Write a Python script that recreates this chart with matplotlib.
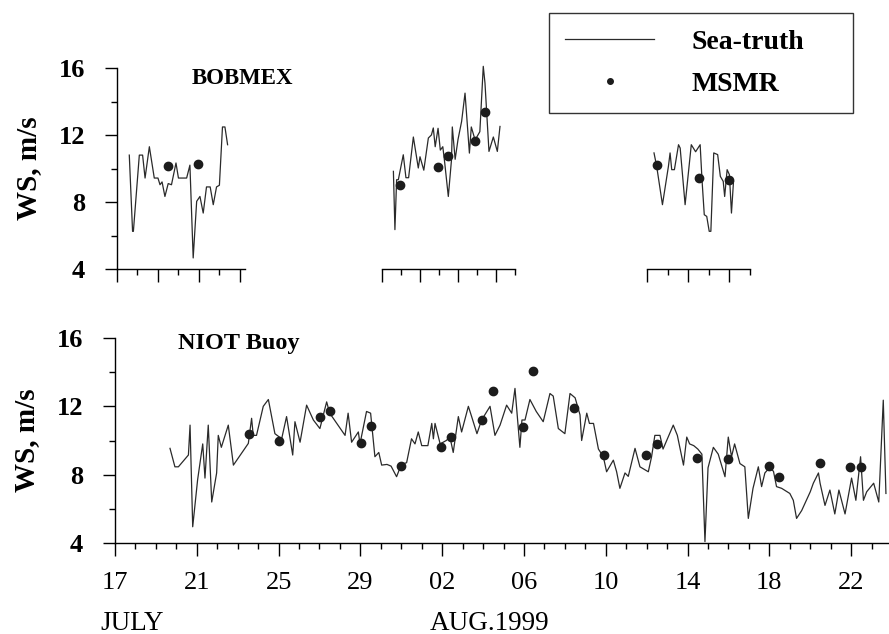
import matplotlib.pyplot as plt
from matplotlib.lines import Line2D
from matplotlib.ticker import MultipleLocator, FixedLocator

plt.rcParams['font.family'] = ['Liberation Serif', 'DejaVu Serif']

# days counted from 17 July 1999, 00 h
# BOBMEX sea-truth, three cruise legs
bob1_day = [0.6, 0.76, 0.8, 1.09, 1.25, 1.37, 1.58, 1.82, 2.0, 2.1, 2.2, 2.34, 2.5, 2.66,
            2.88, 3.0, 3.4, 3.56, 3.72, 3.89, 4.05, 4.21, 4.37, 4.55, 4.7, 4.86, 5.0,
            5.15, 5.27, 5.4]
bob1_ws = [10.8, 6.25, 6.25, 10.8, 10.8, 9.43, 11.3, 9.43, 9.43, 9.03, 9.2, 8.33, 9.1, 9.03,
           10.33, 9.43, 9.43, 10.2, 4.66, 8.04, 8.33, 7.34, 8.9, 8.9, 7.84, 8.9, 9.0,
           12.48, 12.48, 11.42]

bob2_day = [13.6, 13.68, 13.77, 13.86, 14.12, 14.26, 14.4, 14.65, 14.91, 15.0, 15.2, 15.44,
            15.6, 15.7, 15.8, 15.95, 16.07, 16.2, 16.3, 16.49, 16.66, 16.7, 16.85, 17.0,
            17.19, 17.37, 17.6, 17.7, 17.9, 18.15, 18.33, 18.42, 18.63, 18.86, 19.07, 19.21]
bob2_ws = [9.83, 6.35, 9.33, 9.33, 10.82, 9.45, 9.45, 11.88, 10.03, 10.7, 9.9, 11.82,
           12.0, 12.42, 11.3, 12.4, 11.1, 11.3, 10.35, 8.33, 10.55, 12.48, 10.55, 11.73,
           12.81, 14.5, 10.92, 12.48, 11.7, 12.2, 16.1, 15.1, 11.02, 11.88, 11.02, 12.51]

bob3_day = [26.34, 26.47, 26.75, 27.04, 27.12, 27.2, 27.33, 27.53, 27.61, 27.85, 28.15,
            28.36, 28.58, 28.67, 28.78, 28.9, 29.02, 29.1, 29.24, 29.43, 29.56, 29.7,
            29.77, 29.89, 30.0, 30.1, 30.2]
bob3_ws = [10.93, 10.13, 7.84, 10.13, 10.93, 9.93, 9.93, 11.42, 11.22, 7.84, 11.42,
           11.0, 11.42, 9.33, 7.24, 7.14, 6.25, 6.25, 10.93, 10.83, 9.53, 9.23,
           8.33, 9.93, 9.63, 7.34, 9.23]

bob_msmr_day = [2.47, 3.97, 13.95, 15.93, 16.46, 17.89, 18.44, 26.47, 28.5, 29.96]
bob_msmr_ws = [10.13, 10.27, 8.99, 10.07, 10.72, 11.62, 13.35, 10.23, 9.43, 9.33]

# NIOT buoy sea-truth
niot_day = [2.69, 2.93, 3.1, 3.59, 3.67, 3.8, 4.04, 4.29, 4.4, 4.56, 4.73, 4.97, 5.05, 5.2,
            5.54, 5.79, 6.52, 6.68, 6.76, 6.92, 7.25, 7.5, 7.82, 8.15, 8.39, 8.69, 8.8,
            9.05, 9.37, 9.7, 10.02, 10.35, 10.5, 11.25, 11.4, 11.57, 11.9, 11.98, 12.3,
            12.5, 12.71, 12.9, 13.04, 13.3, 13.5, 13.77, 14.0, 14.26, 14.5, 14.67, 14.83,
            15.0, 15.3, 15.49, 15.57, 15.65, 15.9, 16.2, 16.38, 16.54, 16.79, 16.95, 17.28,
            17.44, 17.7, 17.93, 18.34, 18.58, 18.83, 19.15, 19.4, 19.56, 19.72, 19.8, 19.9,
            20.05, 20.29, 20.6, 20.94, 21.27, 21.43, 21.68, 22.0, 22.25, 22.5, 22.74, 22.82,
            23.07, 23.2, 23.4, 23.64, 23.88, 24.04, 24.37, 24.53, 24.69, 24.94, 25.1, 25.43,
            25.67, 26.08, 26.24, 26.4, 26.65, 26.8, 27.3, 27.5, 27.8, 27.96, 28.1, 28.3,
            28.5, 28.7, 28.85, 29.0, 29.26, 29.5, 29.83, 29.99, 30.15, 30.3, 30.56, 30.8,
            30.97, 31.2, 31.46, 31.62, 31.78, 32.0, 32.2, 32.35, 32.6, 33.0, 33.17, 33.33,
            33.58, 34.0, 34.15, 34.4, 34.48, 34.72, 34.96, 35.2, 35.4, 35.7, 36.02, 36.23,
            36.46, 36.6, 36.76, 37.1, 37.35, 37.57, 37.7]
niot_ws = [9.54, 8.46, 8.46, 9.15, 10.9, 4.95, 7.7, 9.8, 7.8, 10.9, 6.4, 8.1, 10.3, 9.6,
           10.9, 8.56, 9.83, 11.3, 10.3, 10.3, 12.0, 12.4, 10.4, 10.1, 11.4, 9.15, 11.1,
           9.9, 12.07, 11.2, 10.7, 12.26, 11.6, 10.3, 11.6, 9.9, 10.5, 9.8, 11.7,
           11.6, 9.05, 9.3, 8.56, 8.6, 8.5, 7.88, 8.6, 8.7, 10.1, 9.8, 10.5,
           9.7, 9.7, 11.0, 10.1, 11.0, 9.8, 10.0, 10.2, 9.3, 11.4, 10.5, 12.0,
           11.4, 10.4, 11.2, 12.0, 10.3, 10.9, 12.07, 11.6, 13.05, 10.8, 9.6, 11.2,
           11.2, 12.4, 11.7, 11.1, 12.75, 12.6, 10.7, 10.4, 12.75, 12.5, 11.5, 10.0,
           11.6, 11.0, 11.0, 9.5, 9.05, 8.17, 8.85, 8.17, 7.2, 8.1, 7.9, 9.54,
           8.46, 8.17, 9.05, 10.3, 10.3, 9.5, 10.9, 10.3, 8.56, 10.2, 9.8, 9.7,
           9.5, 9.2, 4.08, 8.4, 9.6, 9.2, 7.88, 10.2, 9.05, 9.8, 8.65, 8.46,
           5.44, 7.2, 8.46, 7.3, 8.1, 8.4, 8.2, 7.3, 7.2, 6.9, 6.5, 5.44,
           5.9, 7.0, 7.5, 8.1, 7.5, 6.2, 7.1, 5.7, 7.1, 5.7, 7.8, 6.5,
           9.05, 6.5, 7.0, 7.5, 6.4, 12.36, 6.9]

niot_msmr_day = [6.57, 8.04, 10.02, 10.51, 12.01, 12.52, 13.99, 15.94, 16.43, 17.96, 18.5,
                 19.94, 20.46, 22.44, 23.91, 25.97, 26.49, 28.48, 29.96, 31.98, 32.49,
                 34.47, 35.94, 36.5]
niot_msmr_ws = [10.4, 9.98, 11.4, 11.7, 9.87, 10.85, 8.52, 9.63, 10.2, 11.2, 12.9,
                10.77, 14.08, 11.88, 9.15, 9.15, 9.77, 8.99, 8.9, 8.5, 7.88,
                8.66, 8.46, 8.46]

date_ticks = [0, 4, 8, 12, 16, 20, 24, 28, 32, 36]
date_labels = ['17', '21', '25', '29', '02', '06', '10', '14', '18', '22']

line_col = '#2a2a2a'
dot_col = '#1c1c1c'
W, H = 889, 634

fig = plt.figure(figsize=(W / 100, H / 100), dpi=100)


def axes_px(left, right, top, bottom):
    return fig.add_axes([left / W, 1 - bottom / H, (right - left) / W, (bottom - top) / H])


def style(ax, show_y):
    for s in ['top', 'right']:
        ax.spines[s].set_visible(False)
    ax.spines['left'].set_visible(show_y)
    for s in ['left', 'bottom']:
        ax.spines[s].set_linewidth(1.0)
    ax.set_ylim(4, 16)
    ax.yaxis.set_major_locator(FixedLocator([4, 8, 12, 16]))
    ax.yaxis.set_minor_locator(FixedLocator([6, 10, 14]))
    ax.tick_params(which='major', direction='out', length=9, width=1.0)
    ax.tick_params(which='minor', direction='out', length=4.5, width=1.0)
    if show_y:
        ax.tick_params(axis='y', which='major', labelsize=19, pad=14)
        for t in ax.get_yticklabels():
            t.set_fontweight('bold')
        ax.set_ylabel('WS, m/s', fontsize=21, fontweight='bold', labelpad=12)
    else:
        ax.tick_params(axis='y', which='both', left=False, labelleft=False)
    ax.patch.set_alpha(0)


# top panel (BOBMEX), broken into three legs
legs = [
    (117, 245, (0, 6.25), bob1_day, bob1_ws, True),
    (382, 515, (13, 20), bob2_day, bob2_ws, False),
    (647, 750, (26, 31), bob3_day, bob3_ws, False),
]
for left, right, xl, d, w, show_y in legs:
    ax = axes_px(left, right, 68, 269)
    ax.plot(d, w, color=line_col, lw=0.9, clip_on=False)
    sel = [i for i, x in enumerate(bob_msmr_day) if xl[0] <= x <= xl[1]]
    ax.plot([bob_msmr_day[i] for i in sel], [bob_msmr_ws[i] for i in sel], 'o',
            color=dot_col, ms=6, clip_on=False)
    ax.set_xlim(*xl)
    ax.xaxis.set_major_locator(MultipleLocator(2, offset=xl[0]))
    ax.xaxis.set_minor_locator(MultipleLocator(1))
    ax.tick_params(axis='x', labelbottom=False)
    style(ax, show_y)

fig.text(192 / W, 1 - 78 / H, 'BOBMEX', fontsize=16.5, fontweight='bold', va='center')

# bottom panel (NIOT buoy)
ax2 = axes_px(115, 889, 338, 543)
ax2.plot(niot_day, niot_ws, color=line_col, lw=0.9, clip_on=False)
ax2.plot(niot_msmr_day, niot_msmr_ws, 'o', color=dot_col, ms=6, clip_on=False)
ax2.set_xlim(0, 37.85)
ax2.set_xticks(date_ticks)
ax2.set_xticklabels(date_labels)
ax2.xaxis.set_minor_locator(MultipleLocator(1))
style(ax2, True)
ax2.tick_params(axis='x', which='major', labelsize=19, pad=12)
fig.text(178 / W, 1 - 344 / H, 'NIOT Buoy', fontsize=17.5, fontweight='bold', va='center')

fig.text(100 / W, 1 - 623 / H, 'JULY', fontsize=19.5, va='center')
fig.text(430 / W, 1 - 623 / H, 'AUG.1999', fontsize=19.5, va='center')

handles = [Line2D([], [], color=line_col, lw=0.9),
           Line2D([], [], marker='o', ls='', color=dot_col, ms=4)]
leg = fig.legend(handles, ['Sea-truth', 'MSMR'], loc='upper left',
                 bbox_to_anchor=(549 / W, 1 - 112 / H, 304 / W, 99 / H),
                 bbox_transform=fig.transFigure, mode='expand',
                 fontsize=20, frameon=True, fancybox=False, handlelength=3.2,
                 handletextpad=1.35, borderpad=0.58, labelspacing=0.6, borderaxespad=0)
leg.get_frame().set_edgecolor('black')
leg.get_frame().set_linewidth(1.0)
for t in leg.get_texts():
    t.set_fontweight('bold')

fig.savefig('out.png', dpi=100)
